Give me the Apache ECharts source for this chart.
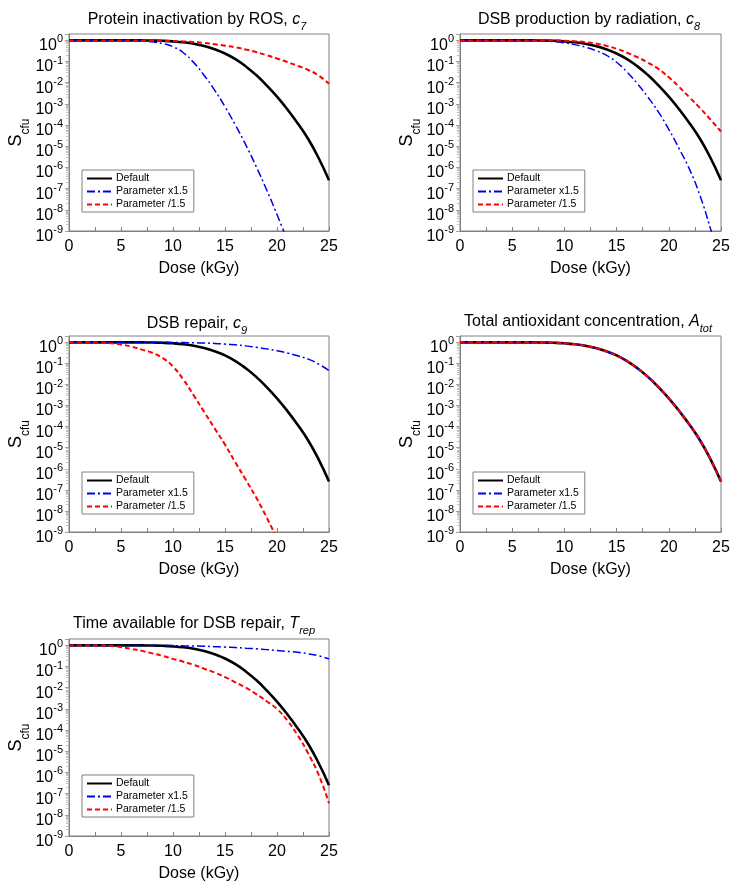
<!DOCTYPE html>
<html><head><meta charset="utf-8">
<script src="https://cdn.jsdelivr.net/npm/echarts@6/dist/echarts.min.js"></script>
<style>html,body{margin:0;padding:0;background:#fff}#c{width:739px;height:893px}</style>
</head><body><div id="c"></div>
<script>
// Dose grid (kGy)
const dose = [0,1,2,3,4,5,6,7,8,9,10,11,12,13,14,15,16,17,18,19,20,21,22,23,24,25];
const seriesNames = ['Default','Parameter x1.5','Parameter /1.5'];

// Default parameters (same curve in every panel)
const sDefault = [1,1,1,1,1,1,1,0.995,0.98,0.955,0.90,0.81,0.69,0.54,0.38,0.24,0.129,0.059,0.023,7.6e-3,2.2e-3,5.5e-4,1.2e-4,2.2e-5,2.8e-6,2.5e-7];

// Panel 1: Protein inactivation by ROS, c7
const c7Up   = [1,1,1,1,1,1,0.98,0.93,0.85,0.71,0.50,0.26,0.089,0.022,4.5e-3,7.4e-4,1.0e-4,1.17e-5,1.1e-6,8.9e-8,6.0e-9,3.5e-10,null,null,null,null];
const c7Down = [1,1,1,1,1,1,1,1,0.98,0.95,0.93,0.89,0.83,0.76,0.66,0.56,0.47,0.37,0.28,0.20,0.14,0.095,0.063,0.040,0.022,0.0089];

// Panel 2: DSB production by radiation, c8
const c8Up   = [1,1,1,1,1,1,1,1,0.93,0.87,0.76,0.63,0.48,0.33,0.20,0.093,0.032,8.9e-3,2.1e-3,4.2e-4,6.3e-5,7.6e-6,7.9e-7,4.5e-8,1.26e-9,2.5e-11];
const c8Down = [1,1,1,1,1,1,1,1,1,1,0.95,0.91,0.83,0.71,0.56,0.40,0.26,0.16,0.089,0.045,0.018,6.3e-3,2.0e-3,6.3e-4,1.8e-4,5.0e-5];

// Panel 3: DSB repair, c9
const c9Up   = [1,1,1,1,1,1,1,1,1,1,0.99,0.98,0.95,0.93,0.89,0.83,0.76,0.68,0.58,0.49,0.40,0.31,0.23,0.16,0.093,0.046];
const c9Down = [1,1,1,0.98,0.91,0.79,0.63,0.45,0.32,0.18,0.071,0.017,3.0e-3,5.0e-4,8.3e-5,1.4e-5,2.0e-6,3.0e-7,4.3e-8,5.0e-9,5.0e-10,null,null,null,null,null];

// Panel 4: Total antioxidant concentration, Atot (curves coincide)
const aUp   = [1,1,1,1,1,1,1,0.995,0.98,0.955,0.90,0.81,0.69,0.54,0.38,0.24,0.129,0.059,0.023,7.6e-3,2.2e-3,5.5e-4,1.2e-4,2.2e-5,2.8e-6,2.5e-7];
const aDown = [1,1,1,1,1,1,1,0.995,0.98,0.955,0.90,0.81,0.69,0.54,0.38,0.24,0.129,0.059,0.023,7.6e-3,2.2e-3,5.5e-4,1.2e-4,2.2e-5,2.8e-6,2.5e-7];

// Panel 5: Time available for DSB repair, Trep
const tUp   = [1,1,1,1,1,1,1,1,1,1,0.98,0.95,0.93,0.91,0.87,0.83,0.79,0.74,0.69,0.63,0.58,0.52,0.47,0.40,0.32,0.23];
const tDown = [1,1,1,1,0.95,0.83,0.68,0.55,0.42,0.32,0.23,0.17,0.12,0.079,0.052,0.032,0.018,0.010,5.0e-3,2.3e-3,1.0e-3,2.8e-4,5.6e-5,7.9e-6,7.9e-7,3.5e-8];

const panels = [
  {title:'{t|Protein inactivation by ROS, }{i|c}{s|7}', curves:[sDefault,c7Up,c7Down], grid:{left:69,top:34,width:260,height:197}, tcx:197, tt:8},
  {title:'{t|DSB production by radiation, }{i|c}{s|8}', curves:[sDefault,c8Up,c8Down], grid:{left:460,top:34,width:261,height:197}, tcx:589, tt:8},
  {title:'{t|DSB repair, }{i|c}{s|9}', curves:[sDefault,c9Up,c9Down], grid:{left:69,top:336,width:260,height:196}, tcx:197, tt:312},
  {title:'{t|Total antioxidant concentration, }{i|A}{s|tot}', curves:[sDefault,aUp,aDown], grid:{left:460,top:336,width:261,height:196}, tcx:588, tt:310},
  {title:'{t|Time available for DSB repair, }{i|T}{s|rep}', curves:[sDefault,tUp,tDown], grid:{left:69,top:639,width:260,height:197}, tcx:194, tt:612}
];

const FONT = 'Liberation Sans, Arial, sans-serif';
const styles = [
  {color:'#000000', width:2.6, type:'solid'},
  {color:'#0000ee', width:1.5, type:[8,3,2,3]},
  {color:'#ff0000', width:2, type:[5,3]}
];

const option = {animation:false, backgroundColor:'#fff', grid:[], xAxis:[], yAxis:[], series:[], title:[], legend:[]};
panels.forEach((p, gi) => {
  option.grid.push(Object.assign({show:true, borderColor:'#808080', borderWidth:1, backgroundColor:'#fff'}, p.grid));
  option.title.push({
    text:p.title, left:p.tcx, top:p.tt, textAlign:'center', padding:0,
    textStyle:{fontFamily:FONT, fontWeight:'normal', rich:{
      t:{fontSize:16, fontFamily:FONT, fontWeight:'normal', color:'#000', lineHeight:20, verticalAlign:'bottom'},
      i:{fontSize:16, fontFamily:FONT, fontWeight:'normal', fontStyle:'italic', color:'#000', lineHeight:20, verticalAlign:'bottom'},
      s:{fontSize:11, fontFamily:FONT, fontWeight:'normal', fontStyle:'italic', color:'#000', lineHeight:14, verticalAlign:'bottom', padding:[0,0,-4,0]}
    }}
  });
  option.xAxis.push({
    type:'value', gridIndex:gi, min:0, max:25, interval:5,
    name:'Dose (kGy)', nameLocation:'middle', nameGap:30,
    nameTextStyle:{fontSize:16, fontFamily:FONT, color:'#000'},
    axisLine:{lineStyle:{color:'#808080'}},
    axisTick:{inside:true, length:4, lineStyle:{color:'#808080'}},
    minorTick:{show:true, splitNumber:2, length:4, lineStyle:{color:'#808080'}},
    splitLine:{show:false},
    axisLabel:{fontSize:16, fontFamily:FONT, color:'#000', margin:8}
  });
  option.yAxis.push({
    type:'log', logBase:10, gridIndex:gi, min:1e-9, max:2, interval:1,
    name:'{S|S}{c|cfu}', nameLocation:'middle', nameRotate:90, nameGap:36,
    nameTextStyle:{rich:{
      S:{fontSize:18, fontFamily:FONT, color:'#000', lineHeight:24, verticalAlign:'top'},
      c:{fontSize:12, fontFamily:FONT, color:'#000', lineHeight:24, verticalAlign:'bottom'}
    }},
    axisLine:{lineStyle:{color:'#808080'}},
    axisTick:{inside:false, length:4, lineStyle:{color:'#a0a0a0'}},
    minorTick:{show:true, splitNumber:9, length:3, lineStyle:{color:'#c0c0c0'}},
    splitLine:{show:false},
    axisLabel:{margin:6, showMinLabel:true, showMaxLabel:false, padding:[7,0,0,0], formatter:function(v){
      const l = Math.log10(v), e = Math.round(l);
      if (Math.abs(l - e) > 1e-6 || e > 0) return '';
      return '{b|10}{s|' + e + '}';
    }, rich:{
      b:{fontSize:16, fontFamily:FONT, color:'#000', lineHeight:20, verticalAlign:'bottom'},
      s:{fontSize:11, fontFamily:FONT, color:'#000', lineHeight:20, verticalAlign:'top'}
    }}
  });
  p.curves.forEach((vals, k) => {
    const data = [];
    dose.forEach((d, i) => { if (vals[i] != null) data.push([d, vals[i]]); });
    option.series.push({
      type:'line', name:seriesNames[k], xAxisIndex:gi, yAxisIndex:gi, data:data,
      smooth:0.5, showSymbol:false, symbol:'none', clip:true,
      lineStyle:styles[k], itemStyle:{color:styles[k].color}
    });
  });
  option.legend.push({
    data:seriesNames, orient:'vertical', left:p.grid.left+13, top:p.grid.top+136,
    itemWidth:25, itemHeight:11, itemGap:2, padding:[3,6,2,4],
    borderColor:'#808080', borderWidth:1, backgroundColor:'#fff',
    selectedMode:false, itemStyle:{opacity:0},
    textStyle:{fontSize:10.5, fontFamily:FONT, color:'#000', padding:[0,0,0,-1]}
  });
});

const chart = echarts.init(document.getElementById('c'), null, {renderer:'canvas'});
chart.setOption(option);
</script>
</body></html>
